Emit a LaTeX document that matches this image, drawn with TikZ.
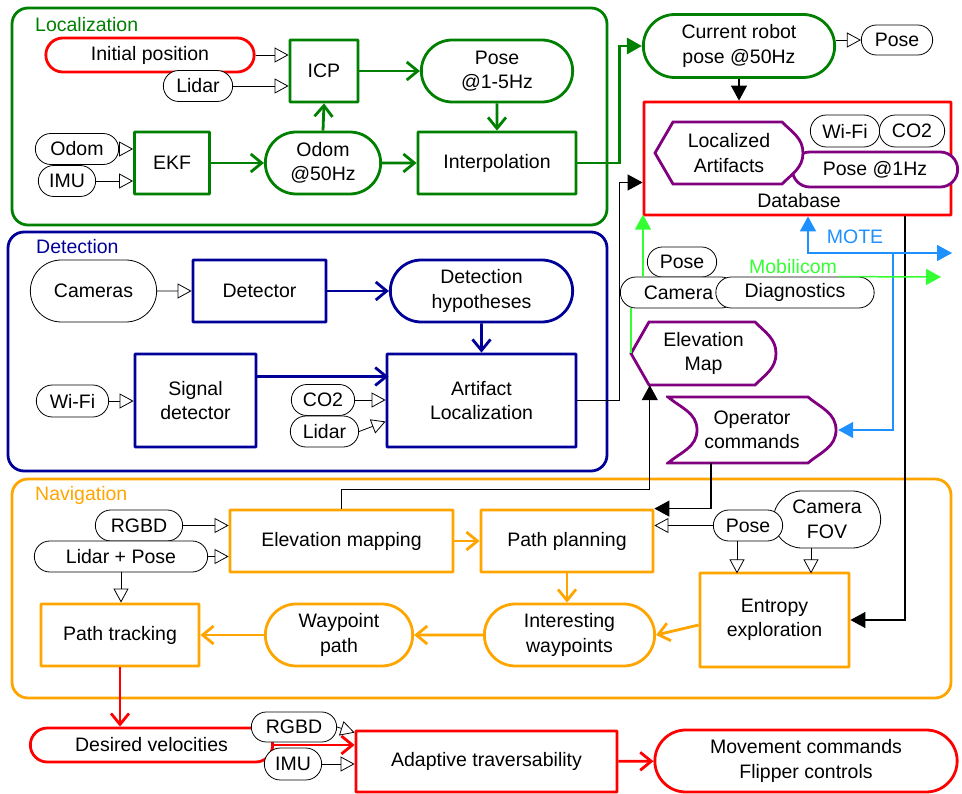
\documentclass[tikz,border=0pt]{standalone}
\usepackage{fontspec}
\setmainfont{Liberation Sans}
\usetikzlibrary{arrows.meta, shapes.misc, calc}

\definecolor{locgreen}{RGB}{0,128,0}
\definecolor{detblue}{RGB}{0,0,153}
\definecolor{navorange}{RGB}{255,165,0}
\definecolor{dbpurple}{RGB}{128,0,128}
\definecolor{mobigreen}{RGB}{51,255,51}
\definecolor{moteblue}{RGB}{30,144,255}

\begin{document}
\begin{tikzpicture}[x=1pt, y=1pt,
    font=\fontsize{19.5}{24.5}\selectfont,
    group/.style={draw=#1, line width=2.8pt, rounded corners=16pt},
    grouplabel/.style={text=#1, anchor=west, inner sep=0pt},
    block/.style={draw=#1, line width=2.8pt, rounded corners=0.5pt, fill=white, align=center, minimum height=62pt},
    data/.style={block=#1, sharp corners, rounded rectangle},
    input/.style={draw, rounded rectangle, line width=0.8pt, fill=white, align=center, minimum height=31pt},
    display/.style={inner sep=0pt, align=center, path picture={
        \draw[draw=dbpurple, line width=2.8pt, fill=white]
            ([xshift=2pt]path picture bounding box.west)
            -- ([xshift=20pt,yshift=-2pt]path picture bounding box.north west)
            -- ([xshift=-23pt,yshift=-2pt]path picture bounding box.north east)
            to[out=-45,in=90] ([xshift=-2pt]path picture bounding box.east)
            to[out=-90,in=45] ([xshift=-23pt,yshift=2pt]path picture bounding box.south east)
            -- ([xshift=20pt,yshift=2pt]path picture bounding box.south west)
            -- cycle;}},
    command/.style={inner sep=0pt, align=center, path picture={
        \draw[draw=dbpurple, line width=2.8pt, fill=white]
            ([xshift=2pt,yshift=-2pt]path picture bounding box.north west)
            -- ([xshift=-30pt,yshift=-2pt]path picture bounding box.north east)
            to[out=-40,in=90] ([xshift=-2pt]path picture bounding box.east)
            to[out=-90,in=40] ([xshift=-30pt,yshift=2pt]path picture bounding box.south east)
            -- ([xshift=2pt,yshift=2pt]path picture bounding box.south west)
            to[out=40,in=-90] ([xshift=31pt]path picture bounding box.west)
            to[out=90,in=-40] ([xshift=2pt,yshift=-2pt]path picture bounding box.north west)
            -- cycle;}},
    flow/.style={draw=#1, line width=2.8pt, -{Straight Barb[length=11pt,width=18pt]}},
    feed/.style={line width=0.8pt, -{Triangle[open,length=14pt,width=15pt]}},
    link/.style={draw=#1, line width=1.1pt, -{Triangle[length=15pt,width=16pt]}},
    link/.default=black]

    \useasboundingbox (0,0) rectangle (962,-794);

    % groups
    \draw[group=locgreen] (12,-8) rectangle (607,-225);
    \node[grouplabel=locgreen] (loclabel) at (35,-25) {Localization};
    \draw[group=detblue] (8,-232) rectangle (607,-471);
    \node[grouplabel=detblue] (detlabel) at (36,-247) {Detection};
    \draw[group=navorange] (12,-479) rectangle (951,-698);
    \node[grouplabel=navorange] (navlabel) at (35,-495) {Navigation};

    % localization
    \node[data=red, minimum width=215pt, minimum height=34pt] (initpos) at (150,-55) {Initial position};
    \node[input, minimum width=76pt] (lidarloc) at (198,-86) {Lidar};
    \node[block=locgreen, minimum width=68pt] (icp) at (324,-71) {ICP};
    \node[data=locgreen, minimum width=158pt] (posefreq) at (497,-71) {Pose\\@1-5Hz};
    \node[input, minimum width=90pt] (odom) at (77,-149) {Odom};
    \node[input, minimum width=64pt] (imuloc) at (67,-181) {IMU};
    \node[block=locgreen, minimum width=75pt] (ekf) at (172,-163) {EKF};
    \node[data=locgreen, minimum width=122pt] (odomfreq) at (323,-163) {Odom\\@50Hz};
    \node[block=locgreen, minimum width=158pt] (interp) at (497,-163) {Interpolation};

    % database
    \node[data=locgreen, minimum width=198pt, minimum height=63pt] (current) at (739,-46) {Current robot\\pose @50Hz};
    \node[input, minimum width=78pt, minimum height=30pt] (posecur) at (897,-40) {Pose};
    \node[block=red, minimum width=307pt, minimum height=113pt] (db) at (797.5,-158.5) {};
    \node (dblabel) at (799,-201) {Database};
    \node[data=dbpurple, minimum width=172pt, minimum height=35pt] (posehz) at (875,-169.5) {Pose @1Hz};
    \node[display, minimum width=152pt, minimum height=66pt] (artifacts) at (729,-153) {Localized\\Artifacts};
    \node[input, minimum width=76pt, minimum height=32pt] (wifidb) at (845,-131) {Wi-Fi};
    \node[input, minimum width=72pt, minimum height=32pt] (co2db) at (912,-131) {CO2};

    % shared data
    \node[input, minimum width=76pt, minimum height=30pt] (poseshare) at (682,-262) {Pose};
    \node[input, minimum width=123pt] (camera) at (678.5,-292.5) {Camera};
    \node[input, minimum width=165pt] (diag) at (795,-292.5) {Diagnostics};
    \node[text=mobigreen] (mobilabel) at (793,-267) {Mobilicom};
    \node[text=moteblue] (motelabel) at (855,-237) {MOTE};
    \node[display, minimum width=149pt, minimum height=67pt] (elevmap) at (703.5,-353.5) {Elevation\\Map};
    \node[command, minimum width=172pt, minimum height=70pt] (opcmd) at (752,-430) {Operator\\commands};

    % detection
    \node[input, minimum width=133pt, minimum height=62pt] (cameras) at (93.5,-291) {Cameras};
    \node[block=detblue, minimum width=133pt] (detector) at (259.5,-291) {Detector};
    \node[data=detblue, minimum width=189pt] (dethyp) at (481.5,-291) {Detection\\hypotheses};
    \node[input, minimum width=79pt, minimum height=32pt] (wifidet) at (72.5,-401) {Wi-Fi};
    \node[block=detblue, minimum width=121pt, minimum height=93pt] (sigdet) at (195.5,-400.5) {Signal\\detector};
    \node[input, minimum width=70pt] (co2det) at (323,-400) {CO2};
    \node[input, minimum width=75pt] (lidardet) at (324.5,-431.5) {Lidar};
    \node[block=detblue, minimum width=189pt, minimum height=93pt] (artloc) at (481.5,-400.5) {Artifact\\Localization};

    % navigation
    \node[input, minimum width=94pt] (rgbdnav) at (139,-525.5) {RGBD};
    \node[input, minimum width=180pt] (lidarpose) at (121,-556.5) {Lidar + Pose};
    \node[block=navorange, minimum width=223pt] (elevmapping) at (341.5,-541) {Elevation mapping};
    \node[block=navorange, minimum width=172pt] (pathplan) at (567,-541) {Path planning};
    \node[input, minimum width=114pt, minimum height=57pt] (camfov) at (827,-519.5) {Camera\\FOV};
    \node[input, minimum width=76pt] (posenav) at (748,-525.5) {Pose};
    \node[block=navorange, minimum width=149pt, minimum height=94pt] (entropy) at (774.5,-620) {Entropy\\exploration};
    \node[data=navorange, minimum width=177pt] (interesting) at (569.5,-635) {Interesting\\waypoints};
    \node[data=navorange, minimum width=154pt] (waypoint) at (339,-635) {Waypoint\\path};
    \node[block=navorange, minimum width=158pt] (pathtrack) at (120,-635) {Path tracking};

    % traversability
    \node[data=red, minimum width=249pt, minimum height=34pt] (desvel) at (151.5,-745) {Desired velocities};
    \node[input, minimum width=92pt, minimum height=30pt] (rgbdtrav) at (294,-727) {RGBD};
    \node[input, minimum width=64pt, minimum height=32pt] (imutrav) at (293,-764) {IMU};
    \node[block=red, minimum width=261pt, minimum height=61pt] (adaptive) at (486.5,-761.5) {Adaptive traversability};
    \node[data=red, minimum width=309pt] (movement) at (806,-761) {Movement commands\\Flipper controls};

    \coordinate (motetip) at (952,-253);
    \coordinate (motejoin) at (893,-253);
    \coordinate (mobitip) at (941,-277);

    % localization connectors
    \draw[feed] (initpos.east) -- (initpos.east -| icp.west);
    \draw[feed] (lidarloc.east) -- (lidarloc.east -| icp.west);
    \draw[feed] (odom.east) -- (odom.east -| ekf.west);
    \draw[feed] (imuloc.east) -- (imuloc.east -| ekf.west);
    \draw[flow=locgreen] (ekf) -- (odomfreq);
    \draw[flow=locgreen] (odomfreq.north) -- (icp.south);
    \draw[flow=locgreen] (odomfreq) -- (interp);
    \draw[flow=locgreen] (icp) -- (posefreq);
    \draw[flow=locgreen] (posefreq) -- (interp);
    \draw[link=locgreen, line width=2.8pt] (interp.east) -- ++(42,0) |- (current.west);

    % database connectors
    \draw[feed] ([yshift=6pt]current.east) -- (posecur.west);
    \draw[link] (current.south) -- (current.south |- db.north);
    \draw[link] (artloc.east) -- ++(42,0) |- ([yshift=-24pt]db.west);
    \draw[link] ([xshift=107.5pt]db.south) |- (entropy.east);
    \draw[link=moteblue, line width=1.5pt, {Triangle[length=15pt,width=16pt]}-{Triangle[length=15pt,width=16pt]}] ([xshift=10.5pt]db.south) |- (motetip);
    \draw[link=moteblue, line width=1.5pt] (motejoin) |- (opcmd.east);
    \draw[link=mobigreen, line width=1.5pt] ([xshift=-20pt]diag.north east) -- (mobitip);
    \draw[mobigreen, line width=1.5pt] ([xshift=2pt]elevmap.west) -- ++(0,45);
    \draw[link=mobigreen, line width=1.5pt] ([xshift=-35.5pt]camera.north) -- ++(0,62);
    \draw[link] (elevmapping.north) -- ++(0,19) -| ([xshift=21pt,yshift=2pt]elevmap.south west);
    \draw[link] ([xshift=-41pt,yshift=2pt]opcmd.south) |- (pathplan.north east);

    % detection connectors
    \draw[feed] (cameras) -- (detector);
    \draw[flow=detblue] (detector) -- (dethyp);
    \draw[flow=detblue] (dethyp) -- (artloc);
    \draw[feed] (wifidet.east) -- (wifidet.east -| sigdet.west);
    \draw[flow=detblue] ([yshift=24pt]sigdet.east) -- ++(131,0);
    \draw[feed] (co2det.east) -- (co2det.east -| artloc.west);
    \draw[feed] (lidardet.east) -- ([yshift=-21pt]artloc.west);

    % navigation connectors
    \draw[feed] (rgbdnav.east) -- (rgbdnav.east -| elevmapping.west);
    \draw[feed] (lidarpose.east) -- (lidarpose.east -| elevmapping.west);
    \draw[feed] (lidarpose.south) -- (lidarpose.south |- pathtrack.north);
    \draw[flow=navorange] (elevmapping) -- (pathplan);
    \draw[feed] (posenav.west) -- (posenav.west -| pathplan.east);
    \draw[feed] ([xshift=-11pt]posenav.south) -- ++(0,-32);
    \draw[feed] ([xshift=-16pt]camfov.south) -- ++(0,-25);
    \draw[flow=navorange] (pathplan.south) -- (pathplan.south |- interesting.north);
    \draw[flow=navorange] ([yshift=-5pt]entropy.west) -- (interesting.east);
    \draw[flow=navorange] (interesting) -- (waypoint);
    \draw[flow=navorange] (waypoint) -- (pathtrack);
    \draw[flow=red] (pathtrack.south) -- (pathtrack.south |- desvel.north);

    % traversability connectors
    \draw[feed] (rgbdtrav.east) -- ([yshift=-3pt]adaptive.north west);
    \draw[feed] (imutrav.east) -- (imutrav.east -| adaptive.west);
    \draw[flow=red] (desvel.east) -- (desvel.east -| adaptive.west);
    \draw[flow=red] (adaptive) -- (movement);
\end{tikzpicture}
\end{document}
